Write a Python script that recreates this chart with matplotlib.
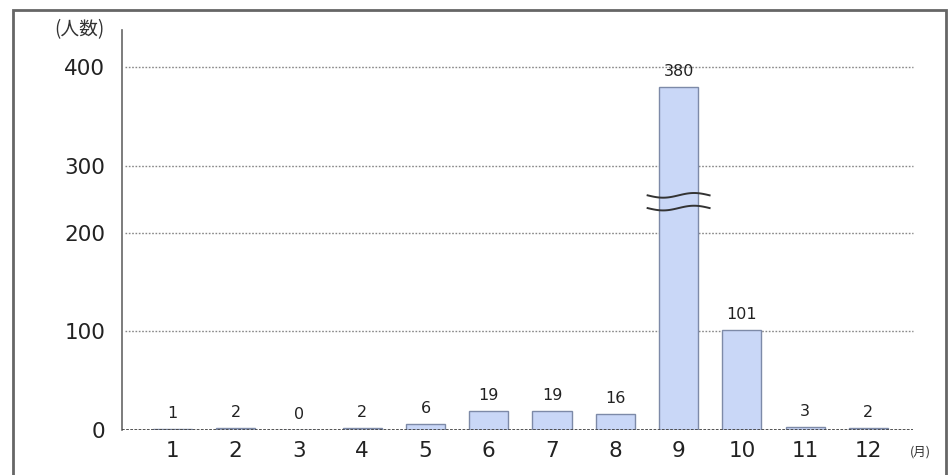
import matplotlib
matplotlib.use('Agg')
import matplotlib.pyplot as plt
from matplotlib.patches import Rectangle
import numpy as np

months = ['1', '2', '3', '4', '5', '6', '7', '8', '9', '10', '11', '12']
counts = [1, 2, 0, 2, 6, 19, 19, 16, 380, 101, 3, 2]
y_ticks = [0, 100, 200, 300, 400]

plt.rcParams['font.family'] = ['DejaVu Sans', 'Noto Sans CJK JP']

# squeeze the 200-300 band so the tall September bar fits
K = 0.68


def fwd(v):
    v = np.asarray(v, dtype=float)
    return np.where(v <= 200, v,
                    np.where(v <= 300, 200 + (v - 200) * K, 200 + 100 * K + (v - 300)))


def inv(t):
    t = np.asarray(t, dtype=float)
    lo = 200 + 100 * K
    return np.where(t <= 200, t,
                    np.where(t <= lo, 200 + (t - 200) / K, 300 + (t - lo)))


fig = plt.figure(figsize=(9.52, 4.75), dpi=100)
ax = fig.add_axes([0.128, 0.095, 0.844, 0.842])
ax.set_yscale('function', functions=(fwd, inv))

x = np.arange(1, len(months) + 1)
bars = ax.bar(x, counts, width=0.62, color='#c9d7f7', edgecolor='#7d8aa8',
              linewidth=1.0, zorder=3)

for xi, c in zip(x, counts):
    ax.annotate(str(c), (xi, c), xytext=(0, 6), textcoords='offset points',
                ha='center', va='bottom', fontsize=11.5, color='#222', zorder=4)

ax.set_xlim(0.2, 12.9)
ax.set_ylim(0, 438)
ax.set_xticks(x)
ax.set_xticklabels(months, fontsize=15.5, color='#222')
ax.set_yticks(y_ticks)
ax.set_yticklabels([str(t) for t in y_ticks], fontsize=15.5, color='#222')
ax.tick_params(length=0, pad=8)
ax.tick_params(axis='y', pad=12)

for t in y_ticks[1:]:
    ax.axhline(t, xmin=0.004, xmax=0.985, color='#888', linestyle=(0, (1.2, 1.2)),
               linewidth=1.0, zorder=1)
ax.axhline(0, xmin=0, xmax=0.985, color='#444', linestyle=(0, (1.5, 0.8)),
           linewidth=1.3, zorder=5)

for side in ['top', 'right', 'bottom']:
    ax.spines[side].set_visible(False)
ax.spines['left'].set_color('#666')
ax.spines['left'].set_linewidth(1.2)

# wavy break marks across the tallest bar
peak = int(np.argmax(counts)) + 1
wx = np.linspace(peak - 0.49, peak + 0.49, 60)
wave = np.sin((wx - peak) / 0.49 * np.pi)
for yc in (256, 237):
    ax.plot(wx, yc + 3.5 * wave, color='#333', linewidth=1.4, zorder=6)

ax.text(-0.022, 1.0, '(人数)', transform=ax.transAxes, ha='right', va='center',
        fontsize=13.5, color='#333', family='Noto Sans CJK JP')
ax.text(12.82, -0.055, '(月)', transform=ax.get_xaxis_transform(), ha='center',
        va='center', fontsize=9, color='#333', family='Noto Sans CJK JP')

fig.patches.append(Rectangle((13 / 952, -0.05), 933 / 952, 1.05 - 10 / 475,
                             transform=fig.transFigure, fill=False,
                             edgecolor='#666', linewidth=2))

fig.savefig('out.png', dpi=100)
